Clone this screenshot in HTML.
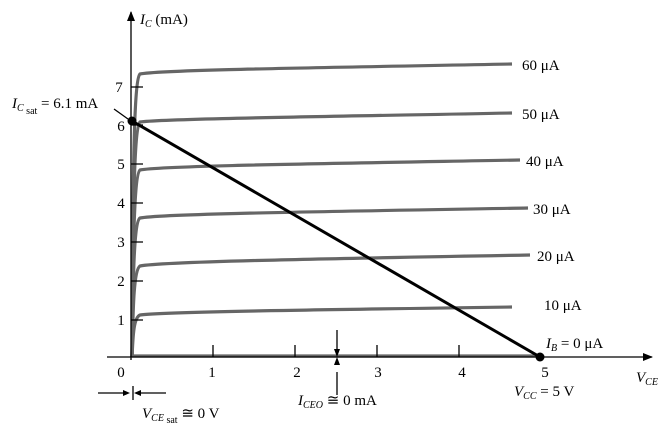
<!DOCTYPE html>
<html><head><style>body{margin:0;background:#fff}svg{display:block}text{font-family:"Liberation Serif",serif;font-size:15px;fill:#000}</style></head><body>
<svg width="666" height="436" viewBox="0 0 666 436">
<defs><marker id="a" markerWidth="10" markerHeight="8" refX="9" refY="4" orient="auto" markerUnits="userSpaceOnUse"><path d="M0,0L10,4L0,8z" fill="#000"/></marker></defs>
<g stroke="#666" stroke-width="3.2" fill="none">
<path d="M132,357 C133,200 133,80 140,74 C160,70 300,68 512,64"/>
<path d="M132,357 C133,250 133,128 140,122 C160,119 300,117 512,113"/>
<path d="M132,357 C133,280 133,175 140,170 C160,166 300,164 520,160"/>
<path d="M132,357 C133,300 133,222 140,218 C160,214 300,212 528,208"/>
<path d="M132,357 C133,320 133,270 140,266 C160,262 300,259 530,255"/>
<path d="M132,357 C133,340 133,318 140,315 C160,312 300,310 512,307"/>
<path d="M132,356 L540,356"/>
</g>
<g stroke="#000" stroke-width="1.3" fill="none">
<path d="M131,360 V12" marker-end="url(#a)"/>
<path d="M107,357 H652" marker-end="url(#a)"/>
<path d="M131,320H143M131,281H143M131,242H143M131,203H143M131,164H143M131,125H143M131,87H143"/>
<path d="M213,345V357M295,345V357M377,345V357M459,345V357"/>
<path d="M337,330V352M337,372V395"/>
<path d="M114,109L128,119"/>
<path d="M98,393H128M133,386V400M136,393H166"/>
</g>
<path d="M337,357l-3,-8h6z M337,357l-3,8h6z M130,393l-7,-3v6z M134,393l7,-3v6z" fill="#000"/>
<path d="M132,121 L540,357" stroke="#000" stroke-width="3"/>
<circle cx="132" cy="121" r="4.5" fill="#000"/>
<circle cx="540" cy="357" r="4.5" fill="#000"/>
<text x="140" y="24"><tspan font-style="italic">I</tspan><tspan font-style="italic" font-size="10" dy="3">C</tspan><tspan dy="-3"> (mA)</tspan></text>
<g text-anchor="middle"><text x="119" y="92">7</text><text x="121" y="131">6</text><text x="121" y="169">5</text><text x="121" y="208">4</text><text x="121" y="247">3</text><text x="121" y="286">2</text><text x="121" y="325">1</text>
<text x="121" y="377">0</text><text x="212" y="377">1</text><text x="297" y="377">2</text><text x="378" y="377">3</text><text x="462" y="377">4</text><text x="545" y="377">5</text></g>
<text x="12" y="108"><tspan font-style="italic">I</tspan><tspan font-style="italic" font-size="10" dy="3">C</tspan><tspan font-size="10" dy="3"> sat</tspan><tspan dy="-6"> = 6.1 mA</tspan></text>
<text x="522" y="70">60 μA</text><text x="522" y="119">50 μA</text><text x="526" y="166">40 μA</text><text x="533" y="214">30 μA</text><text x="537" y="261">20 μA</text><text x="544" y="310">10 μA</text>
<text x="546" y="348"><tspan font-style="italic">I</tspan><tspan font-style="italic" font-size="10" dy="3">B</tspan><tspan dy="-3"> = 0 μA</tspan></text>
<text x="636" y="382"><tspan font-style="italic">V</tspan><tspan font-style="italic" font-size="10" dy="3">CE</tspan></text>
<text x="514" y="396"><tspan font-style="italic">V</tspan><tspan font-style="italic" font-size="10" dy="3">CC</tspan><tspan dy="-3"> = 5 V</tspan></text>
<text x="298" y="405"><tspan font-style="italic">I</tspan><tspan font-style="italic" font-size="10" dy="3">CEO</tspan><tspan dy="-3"> ≅ 0 mA</tspan></text>
<text x="142" y="418"><tspan font-style="italic">V</tspan><tspan font-style="italic" font-size="10" dy="3">CE</tspan><tspan font-size="10" dy="2"> sat</tspan><tspan dy="-5"> ≅ 0 V</tspan></text>
</svg>
</body></html>
